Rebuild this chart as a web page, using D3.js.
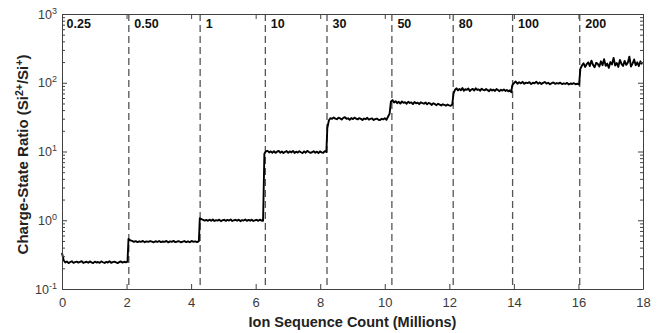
<!DOCTYPE html>
<html><head><meta charset="utf-8">
<script src="https://cdn.jsdelivr.net/npm/d3@7"></script>
<style>
html,body{margin:0;padding:0;background:#fff;}
svg{display:block;font-family:"Liberation Sans",Arial,Helvetica,sans-serif;}
</style></head>
<body><svg id="c" width="659" height="333"></svg>
<script>
// ---- data ----
const xTicks = [0, 2, 4, 6, 8, 10, 12, 14, 16, 18];
const yTickExps = [-1, 0, 1, 2, 3];
const boundaries = [2.07, 4.28, 6.30, 8.21, 10.22, 12.12, 13.96, 16.04];
const segLabels = ["0.25", "0.50", "1", "10", "30", "50", "80", "100", "200"];
const segStart = [0.00, 2.06, 4.27, 6.27, 8.22, 10.19, 12.13, 13.95, 16.06];
const segEnd   = [2.03, 4.24, 6.23, 8.19, 10.15, 12.09, 13.92, 16.02, 17.97];
const seg0 = [0.335,0.262,0.243,0.251,0.238,0.247,0.253,0.24,0.246,0.25,0.242,0.248,0.254,0.239,0.245,0.249,0.241,0.252,0.244,0.238,0.25,0.243,0.247,0.24,0.252,0.245,0.239,0.248,0.243,0.253,0.241,0.246,0.25,0.244,0.238,0.247,0.252,0.242,0.249,0.244,0.25];
const seg1 = [0.535,0.51,0.5,0.485,0.497,0.481,0.494,0.486,0.5,0.479,0.492,0.484,0.498,0.488,0.478,0.495,0.483,0.499,0.481,0.491,0.485,0.5,0.477,0.493,0.486,0.501,0.48,0.49,0.496,0.478,0.487,0.498,0.482,0.494,0.479,0.5,0.486,0.492,0.48,0.497];
const seg2 = [1.07,1.04,1.015,0.99,1.01,0.98,1.02,0.985,1.025,0.975,1.005,0.99,1.02,0.97,1.0,1.015,0.98,1.01,0.99,1.025,0.975,1.0,1.015,0.985,1.02,0.97,1.005,0.99,1.025,0.98,1.01,0.985,1.02,0.975,1.0,1.015,0.98,1.02,0.99,0.985];
const seg3 = [9.3,10.1,10.2,9.7,10.05,9.6,10.1,9.55,9.95,10.2,9.6,10.0,9.5,9.9,10.15,9.6,10.05,9.7,10.2,9.55,9.95,9.65,10.1,9.75,9.5,10.05,9.6,10.2,9.85,9.55,9.75,10.1,9.6,9.95,9.5,10.05,9.7,9.6,10.1,9.85];
const seg4 = [22,28.5,30.5,29.8,31.2,30.1,29.5,31.0,30.3,29.2,30.8,31.5,29.9,30.4,28.9,30.7,29.6,31.1,30.0,29.3,30.6,29.8,28.8,30.2,29.5,30.9,29.1,29.8,30.3,28.7,29.6,30.1,29.0,28.6,29.9,29.3,30.5,28.9,32.0,35.5];
const seg5 = [53,56,51.5,54,50.5,52.8,49.8,53.5,51,52.2,49.5,53,50.8,51.8,49,52.5,50.2,51.4,48.8,52,50.5,49.6,51.8,48.5,50.9,49.8,47.6,50.4,48.9,47.2,49.5,48.1,46.8,48.6,47.5,46.4,48.2,47,46.2,48];
const seg6 = [70,79,83,77.5,81,78,84,76.5,80.5,79,82.5,76,79.5,81.5,77,83,78.5,80,76.5,82,79,77.5,81,78,75.5,80.5,77,79.5,76,81,78.5,75.5,79,77,80,76,78.5,75,77.5,73];
const seg7 = [92,99,104,97,101.5,98,103,96.5,100.5,99,102,95.5,100,98,103.5,97,101,96,99.5,102.5,97.5,100,95,98.5,101,96.5,99,97,100.5,95.5,98,96,99.5,94.5,97.5,96,98.5,95,97,94];
const seg8 = [160,178,192,170,186,198,175,210,182,168,195,188,172,205,180,220,176,190,165,200,185,230,178,194,170,215,188,175,208,182,196,240,172,190,218,180,198,175,205,185];
const segments = [seg0, seg1, seg2, seg3, seg4, seg5, seg6, seg7, seg8];

// ---- layout ----
const W = 659, H = 333;
const m = {left: 62, right: 16, top: 14, bottom: 44};
const svg = d3.select("#c");
const x = d3.scaleLinear().domain([0, 18]).range([m.left, W - m.right]);
const y = d3.scaleLog().domain([0.1, 1000]).range([H - m.bottom, m.top]);
const axisCol = "#404040", textCol = "#3a3a3a";

const pts = [];
segments.forEach((vals, i) => {
  const n = vals.length;
  vals.forEach((v, j) => {
    pts.push([segStart[i] + j * (segEnd[i] - segStart[i]) / (n - 1), v]);
  });
});

// dashed boundaries
svg.append("g").selectAll("line").data(boundaries).join("line")
  .attr("x1", d => x(d)).attr("x2", d => x(d))
  .attr("y1", y(1000)).attr("y2", y(0.1))
  .attr("stroke", "#555").attr("stroke-width", 1.3)
  .attr("stroke-dasharray", "7,4");

// data line
svg.append("path").datum(pts)
  .attr("fill", "none").attr("stroke", "#000").attr("stroke-width", 1.9)
  .attr("stroke-linejoin", "round")
  .attr("d", d3.line().x(d => x(d[0])).y(d => y(d[1])));

const minor = [];
for (let e = -1; e < 3; e++) for (let k = 2; k <= 9; k++) minor.push(k * Math.pow(10, e));
const majors = yTickExps.map(e => Math.pow(10, e));

function styleAxis(g) {
  g.select(".domain").attr("stroke", axisCol).attr("stroke-width", 1);
  g.selectAll(".tick line").attr("stroke", axisCol);
}

const gx = svg.append("g").attr("transform", `translate(0,${H - m.bottom})`)
  .call(d3.axisBottom(x).tickValues(xTicks).tickSizeInner(-5).tickSizeOuter(0).tickPadding(9).tickFormat(d3.format("d")));
styleAxis(gx);
gx.selectAll("text").attr("fill", textCol).attr("font-size", 13).attr("font-family", '"Liberation Sans",Arial,sans-serif');
const gt = svg.append("g").attr("transform", `translate(0,${m.top})`)
  .call(d3.axisTop(x).tickValues(xTicks).tickSizeInner(-5).tickSizeOuter(0).tickFormat(""));
styleAxis(gt);

const gl = svg.append("g").attr("transform", `translate(${m.left},0)`)
  .call(d3.axisLeft(y).tickValues(majors).tickSizeInner(-5).tickSizeOuter(0).tickFormat(""));
styleAxis(gl);
svg.append("g").attr("transform", `translate(${m.left},0)`)
  .call(d3.axisLeft(y).tickValues(minor).tickSizeInner(-3).tickSizeOuter(0).tickFormat(""))
  .call(g => { g.select(".domain").remove(); g.selectAll(".tick line").attr("stroke", axisCol); });
const gr = svg.append("g").attr("transform", `translate(${W - m.right},0)`)
  .call(d3.axisRight(y).tickValues(majors).tickSizeInner(-5).tickSizeOuter(0).tickFormat(""));
styleAxis(gr);
svg.append("g").attr("transform", `translate(${W - m.right},0)`)
  .call(d3.axisRight(y).tickValues(minor).tickSizeInner(-3).tickSizeOuter(0).tickFormat(""))
  .call(g => { g.select(".domain").remove(); g.selectAll(".tick line").attr("stroke", axisCol); });

const yl = svg.append("g").selectAll("text").data(yTickExps).join("text")
  .attr("x", m.left - 5).attr("y", d => y(Math.pow(10, d)) + 4.5)
  .attr("text-anchor", "end").attr("fill", textCol).attr("font-size", 12.5);
yl.append("tspan").text("10");
yl.append("tspan").attr("dy", -5).attr("font-size", 9).text(d => d);

svg.append("g").selectAll("text").data(segLabels).join("text")
  .attr("x", (d, i) => i === 0 ? x(0) + 4.5 : x(boundaries[i - 1]) + 5.5)
  .attr("y", 28).attr("font-size", 12.5).attr("font-weight", "bold").attr("fill", "#111")
  .text(d => d);

svg.append("text").attr("x", (m.left + W - m.right) / 2).attr("y", 327)
  .attr("text-anchor", "middle").attr("font-weight", "bold").attr("font-size", 14.5).attr("fill", "#222")
  .text("Ion Sequence Count (Millions)");

const ylab = svg.append("text").attr("transform", `translate(28,${(m.top + H - m.bottom) / 2 + 3}) rotate(-90)`)
  .attr("text-anchor", "middle").attr("font-weight", "bold").attr("font-size", 15).attr("fill", "#222");
ylab.append("tspan").text("Charge-State Ratio (Si");
ylab.append("tspan").attr("dy", -5.5).attr("font-size", 10.5).text("2+");
ylab.append("tspan").attr("dy", 5.5).text("/Si");
ylab.append("tspan").attr("dy", -5.5).attr("font-size", 10.5).text("+");
ylab.append("tspan").attr("dy", 5.5).text(")");
</script></body></html>
